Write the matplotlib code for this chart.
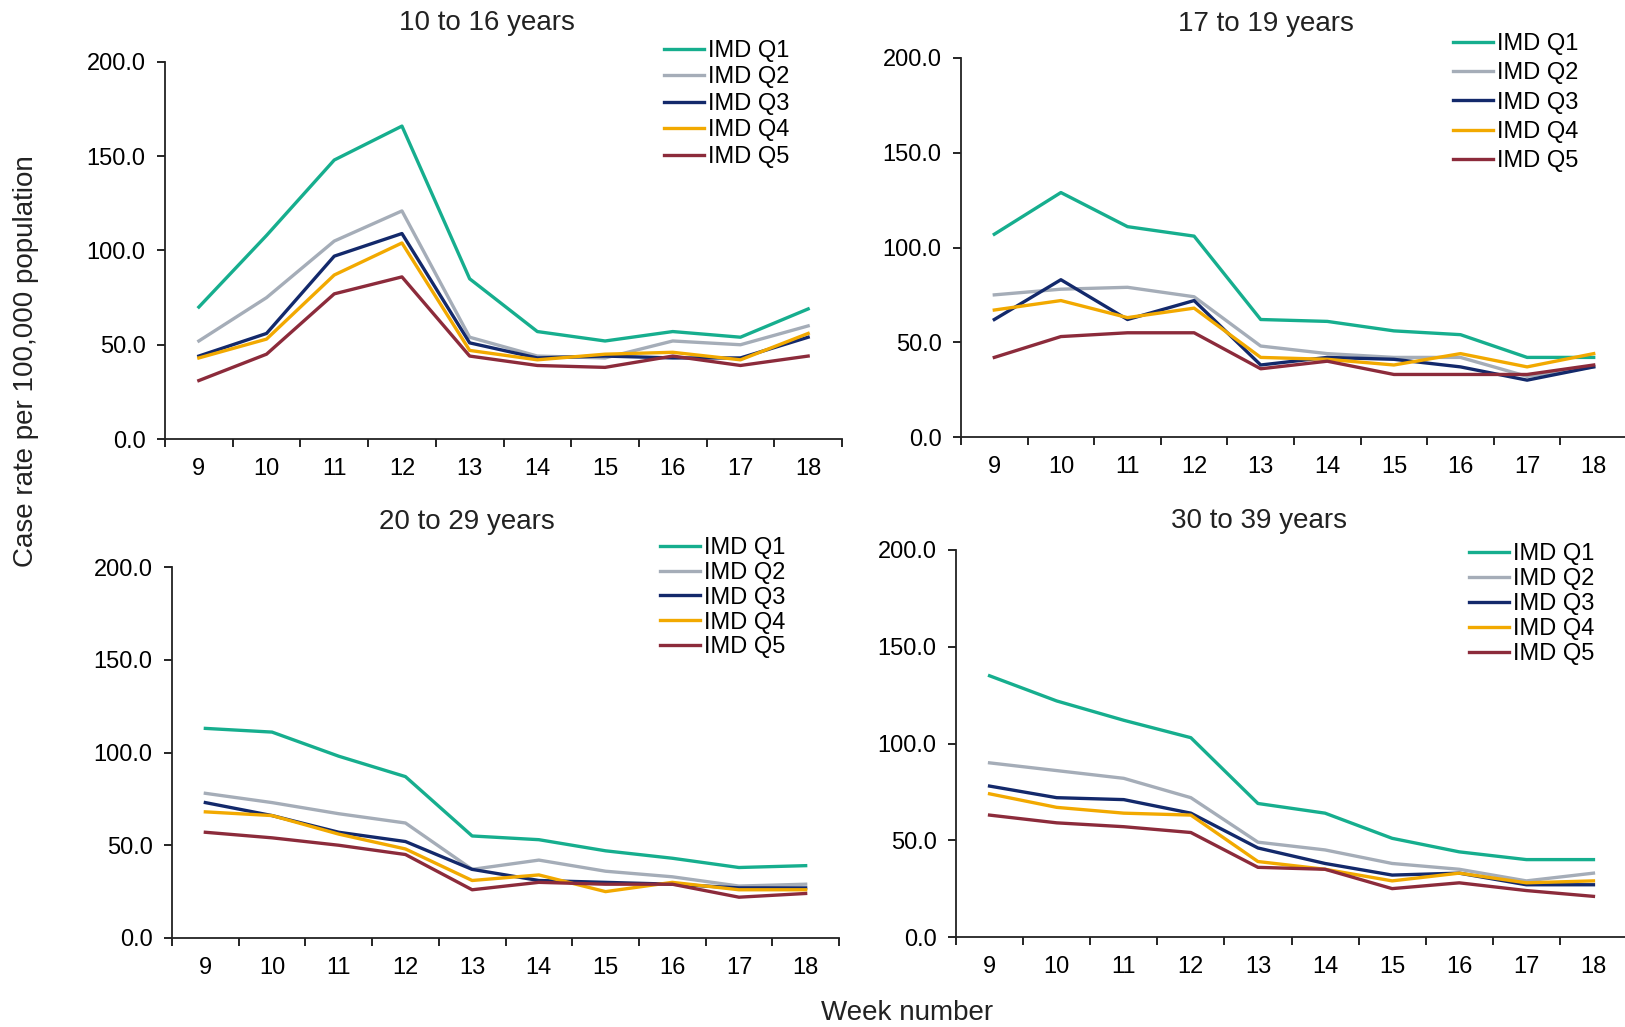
import numpy as np
import matplotlib
matplotlib.use("Agg")
import matplotlib.pyplot as plt

plt.rcParams["font.family"] = ["Liberation Sans", "DejaVu Sans"]

# data ─────────────────────────────────────────────────────
weeks = [9, 10, 11, 12, 13, 14, 15, 16, 17, 18]
quintiles = ["IMD Q1", "IMD Q2", "IMD Q3", "IMD Q4", "IMD Q5"]

rates_10_16 = [
    [70, 108, 148, 166, 85, 57, 52, 57, 54, 69],
    [52, 75, 105, 121, 54, 44, 43, 52, 50, 60],
    [44, 56, 97, 109, 51, 43, 44, 43, 43, 54],
    [43, 53, 87, 104, 47, 42, 45, 46, 42, 56],
    [31, 45, 77, 86, 44, 39, 38, 44, 39, 44],
]
rates_17_19 = [
    [107, 129, 111, 106, 62, 61, 56, 54, 42, 42],
    [75, 78, 79, 74, 48, 44, 42, 42, 32, 37],
    [62, 83, 62, 72, 38, 42, 41, 37, 30, 37],
    [67, 72, 63, 68, 42, 41, 38, 44, 37, 44],
    [42, 53, 55, 55, 36, 40, 33, 33, 33, 38],
]
rates_20_29 = [
    [113, 111, 98, 87, 55, 53, 47, 43, 38, 39],
    [78, 73, 67, 62, 37, 42, 36, 33, 28, 29],
    [73, 66, 57, 52, 37, 31, 30, 29, 27, 27],
    [68, 66, 56, 48, 31, 34, 25, 30, 26, 26],
    [57, 54, 50, 45, 26, 30, 29, 29, 22, 24],
]
rates_30_39 = [
    [135, 122, 112, 103, 69, 64, 51, 44, 40, 40],
    [90, 86, 82, 72, 49, 45, 38, 35, 29, 33],
    [78, 72, 71, 64, 46, 38, 32, 33, 27, 27],
    [74, 67, 64, 63, 39, 35, 29, 33, 28, 29],
    [63, 59, 57, 54, 36, 35, 25, 28, 24, 21],
]

COLORS = ["#16AE8E", "#A5ADB8", "#13296B", "#F2A900", "#8C2B3B"]

W, H = 1625, 1027

# panel boxes in pixels: left, top, right, bottom / title pos / legend pos, spacing
panels = [
    ("10 to 16 years", rates_10_16, (165, 62, 842, 439), (487, 23), (664, 40), 0.19),
    ("17 to 19 years", rates_17_19, (961, 58, 1627, 437), (1266, 24), (1453, 33), 0.31),
    ("20 to 29 years", rates_20_29, (172, 567, 839, 938), (467, 522), (660, 537), 0.12),
    ("30 to 39 years", rates_30_39, (956, 550, 1627, 937), (1259, 521), (1469, 543), 0.13),
]

fig = plt.figure(figsize=(W / 100, H / 100), dpi=100)
fig.patch.set_facecolor("white")

for title, rates, box, tpos, lpos, lsp in panels:
    l, t, r, b = box
    ax = fig.add_axes([l / W, 1 - b / H, (r - l) / W, (b - t) / H])
    for name, vals, c in zip(quintiles, rates, COLORS):
        ax.plot(weeks, vals, color=c, lw=2.4, label=name)

    ax.set_xlim(8.5, 18.5)
    ax.set_ylim(0, 200)
    ax.set_yticks([0, 50, 100, 150, 200])
    ax.set_yticklabels([f"{v:.1f}" for v in [0, 50, 100, 150, 200]])
    ax.set_xticks(weeks)
    ax.set_xticks(np.arange(8.5, 19, 1), minor=True)
    ax.tick_params(axis="x", which="major", length=0, labelsize=17, pad=14)
    ax.tick_params(axis="x", which="minor", length=6, width=1.2, direction="out")
    ax.tick_params(axis="y", length=6, width=1.2, direction="out", labelsize=17, pad=8)
    for s in ["top", "right"]:
        ax.spines[s].set_visible(False)
    for s in ["left", "bottom"]:
        ax.spines[s].set_linewidth(1.3)
        ax.spines[s].set_color("#222222")

    fig.text(tpos[0] / W, 1 - tpos[1] / H, title, ha="center", va="center",
             fontsize=20, color="#222222")

    ax.legend(loc="upper left", bbox_to_anchor=(lpos[0] / W, 1 - lpos[1] / H),
              bbox_transform=fig.transFigure, frameon=False, fontsize=17,
              handlelength=1.7, handletextpad=0.15, labelspacing=lsp,
              borderpad=0, borderaxespad=0)

fig.text(26 / W, 1 - 361 / H, "Case rate per 100,000 population", rotation=90,
         ha="center", va="center", fontsize=20, color="#222222")
fig.text(907 / W, 1 - 1013 / H, "Week number", ha="center", va="center",
         fontsize=20, color="#222222")

fig.savefig("out.png", dpi=100)
